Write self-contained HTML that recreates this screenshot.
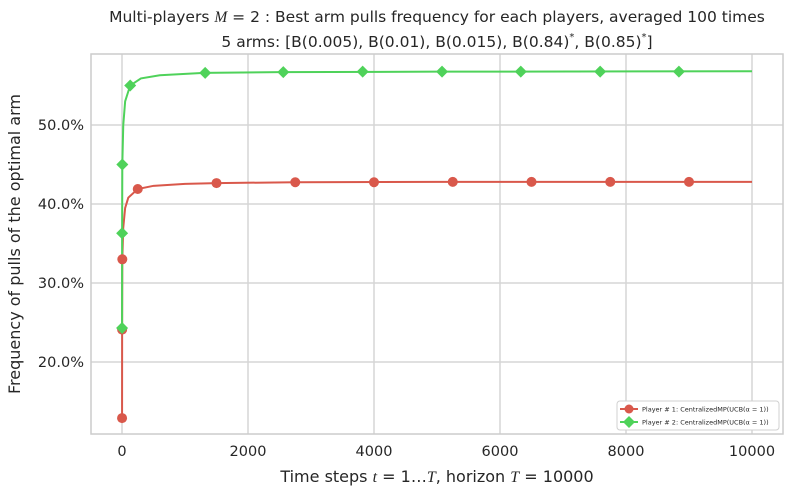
<!DOCTYPE html>
<html><head><meta charset="utf-8"><style>
body{margin:0;background:#fff;}
svg text{font-family:"DejaVu Sans","Liberation Sans",sans-serif;fill:#262626;}
</style></head><body>
<svg id="chart" width="801" height="495" xmlns="http://www.w3.org/2000/svg">
<text x="437" y="22" text-anchor="middle" font-size="15.5">Multi-players <tspan font-style="italic" font-family="Liberation Serif">M</tspan> = 2 : Best arm pulls frequency for each players, averaged 100 times</text>
<text x="437" y="47" text-anchor="middle" font-size="15.5">5 arms: [B(0.005), B(0.01), B(0.015), B(0.84)<tspan font-size="10" dy="-7">*</tspan><tspan dy="7">, B(0.85)</tspan><tspan font-size="10" dy="-7">*</tspan><tspan dy="7">]</tspan></text>
<g id="grid"></g>
<rect x="91" y="54" width="692" height="380" fill="none" stroke="#cccccc" stroke-width="1.5"/>
<g id="series"></g>
<g id="ticks"></g>
<text x="437" y="482" text-anchor="middle" font-size="16">Time steps <tspan font-style="italic" font-family="Liberation Serif">t</tspan> = 1…<tspan font-style="italic" font-family="Liberation Serif">T</tspan>, horizon <tspan font-style="italic" font-family="Liberation Serif">T</tspan> = 10000</text>
<text transform="translate(20,244) rotate(-90)" text-anchor="middle" font-size="16">Frequency of pulls of the optimal arm</text>
<g>
<rect x="617" y="401" width="162" height="29" rx="3" fill="#fff" stroke="#d0d0d0"/>
<line x1="620" y1="409" x2="638" y2="409" stroke="#d9584b" stroke-width="2"/>
<circle cx="629" cy="409" r="4.5" fill="#d9584b"/>
<text x="642" y="411.5" font-size="6.5">Player # 1: CentralizedMP(UCB(α = 1))</text>
<line x1="620" y1="422" x2="638" y2="422" stroke="#4fd25a" stroke-width="2"/>
<polygon points="629,416 635,422 629,428 623,422" fill="#4fd25a"/>
<text x="642" y="424.5" font-size="6.5">Player # 2: CentralizedMP(UCB(α = 1))</text>
</g>
</svg>
<script>
const xTicks=[0,2000,4000,6000,8000,10000];
const yTicks=[20,30,40,50];
const curveT=[1,2,5,20,50,100,250,500,1000,1500,2750,5000,10000];
const redVals=[12.9,24.1,33.0,37.0,39.5,40.8,41.9,42.3,42.55,42.65,42.75,42.8,42.8];
const greenCurveT=[1,2,5,20,50,130,300,600,1300,2500,5000,10000];
const greenVals=[24.3,36.3,45.0,50.0,53.0,55.0,55.9,56.3,56.6,56.7,56.75,56.8];
const redMarkT=[1,2,5,250,1500,2750,4000,5250,6500,7750,9000];
const redMarkV=[12.9,24.1,33.0,41.9,42.65,42.75,42.75,42.8,42.8,42.8,42.8];
const greenMarkT=[1,2,5,130,1320,2560,3820,5080,6330,7590,8840];
const greenMarkV=[24.3,36.3,45.0,55.0,56.6,56.7,56.75,56.75,56.75,56.75,56.75];
const NS='http://www.w3.org/2000/svg';
const xs=t=>122+t*0.063;
const ys=v=>125+(50-v)*7.9;
function mk(tag,attrs,parent){const e=document.createElementNS(NS,tag);for(const k in attrs)e.setAttribute(k,attrs[k]);parent.appendChild(e);return e;}
const grid=document.getElementById('grid'),ticks=document.getElementById('ticks'),ser=document.getElementById('series');
xTicks.forEach(t=>{const l=mk('line',{x1:xs(t),x2:xs(t),y1:54,y2:434,stroke:'#d5d5d5','stroke-width':1.5},grid);


const tx=mk('text',{x:xs(t),y:456,'text-anchor':'middle','font-size':14.5},ticks);tx.textContent=t;

});
yTicks.forEach(v=>{const l=mk('line',{x1:91,x2:783,y1:ys(v),y2:ys(v),stroke:'#d5d5d5','stroke-width':1.5},grid);


const tx=mk('text',{x:84,y:ys(v)+5,'text-anchor':'end','font-size':14.5},ticks);tx.textContent=v.toFixed(1)+'%';

});
function line(T,V,color,name){const p=mk('polyline',{points:T.map((t,i)=>xs(t)+','+ys(V[i])).join(' '),fill:'none',stroke:color,'stroke-width':2},ser);

}
line(curveT,redVals,'#d9584b','player1-line');
line(greenCurveT,greenVals,'#4fd25a','player2-line');
redMarkT.forEach((t,i)=>{const c=mk('circle',{cx:xs(t),cy:ys(redMarkV[i]),r:5,fill:'#d9584b'},ser);

});
greenMarkT.forEach((t,i)=>{const x=xs(t),y=ys(greenMarkV[i]);const p=mk('polygon',{points:`${x},${y-6} ${x+6},${y} ${x},${y+6} ${x-6},${y}`,fill:'#4fd25a'},ser);

});
</script>
</body></html>
